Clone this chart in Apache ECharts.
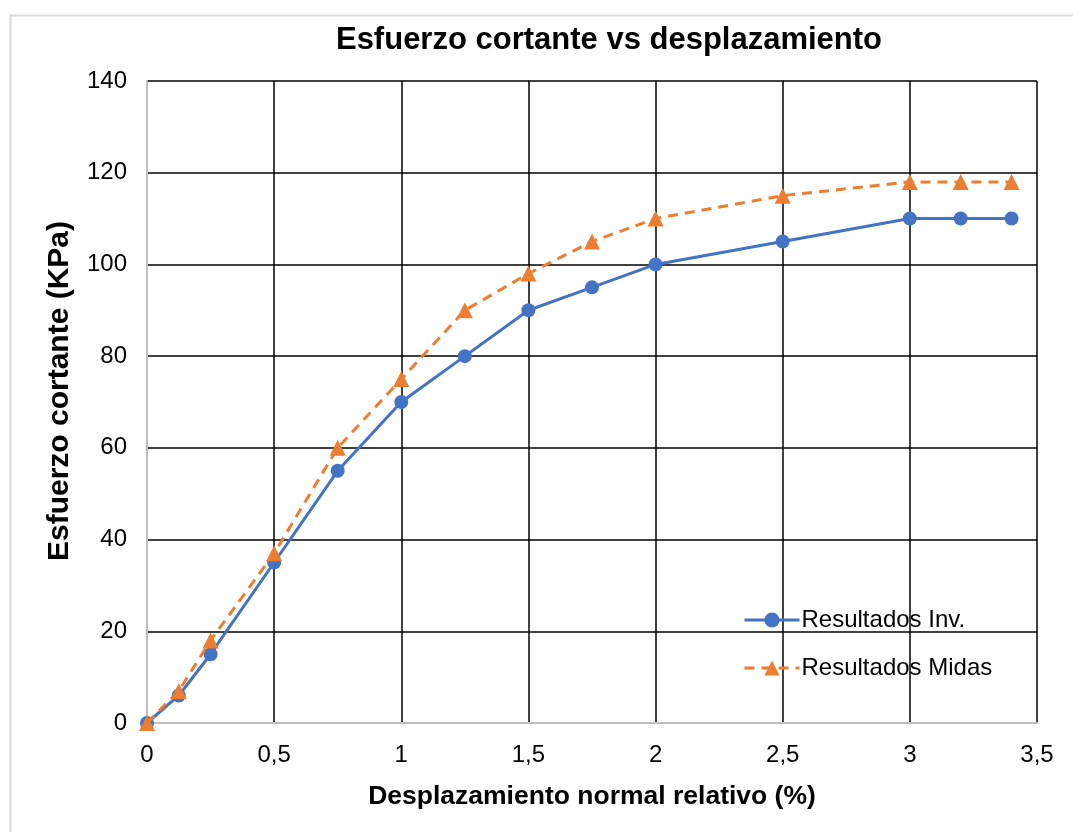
<!DOCTYPE html>
<html><head><meta charset="utf-8">
<script src="https://cdn.jsdelivr.net/npm/echarts@6/dist/echarts.min.js"></script>
<style>html,body{margin:0;padding:0;background:#fff;}#c{width:1073px;height:832px;}</style>
</head><body><div id="c"></div>
<script>
var xValues = [0, 0.125, 0.25, 0.5, 0.75, 1, 1.25, 1.5, 1.75, 2, 2.5, 3, 3.2, 3.4];
var inv = [0, 6, 15, 35, 55, 70, 80, 90, 95, 100, 105, 110, 110, 110];
var midas = [0, 7, 18, 37, 60, 75, 90, 98, 105, 110, 115, 118, 118, 118];
var seriesNames = ['Resultados Inv.', 'Resultados Midas'];
var titleText = 'Esfuerzo cortante vs desplazamiento';
var xName = 'Desplazamiento normal relativo (%)';
var yName = 'Esfuerzo cortante (KPa)';

function pairs(xs, ys){ return xs.map(function(x,i){ return [x, ys[i]]; }); }
var font = 'Liberation Sans, Arial, sans-serif';
var chart = echarts.init(document.getElementById('c'));
chart.setOption({
  backgroundColor: '#fff',
  animation: false,
  graphic: [{type:'rect', left: 8, top: 13, shape:{width:1200, height:1000}, style:{fill:'none', stroke:'#d9d9d9', lineWidth:2}, z:-1}],
  title: {text: titleText, left: 604, top: 20, textAlign: 'center',
    textStyle:{fontFamily: font, fontSize: 31, fontWeight: 'bold', color:'#000'}},
  grid: {left: 147, right: 36, top: 81, bottom: 109},
  legend: {orient: 'vertical', left: 738, top: 603, itemWidth: 55, itemHeight: 19, itemGap: 24,
    lineStyle: {width: 3},
    textStyle:{fontFamily: font, fontSize: 24, color:'#000', padding:[0,0,0,-3]},
    data: seriesNames},
  xAxis: {type:'value', min:0, max:3.5, interval:0.5,
    name: xName, nameLocation:'middle', nameGap: 60,
    nameTextStyle:{fontFamily: font, fontSize: 26.5, fontWeight:'bold', color:'#000'},
    axisLine:{show:true, onZero:false, lineStyle:{color:'#bfbfbf', width:2}},
    axisTick:{show:false},
    axisLabel:{fontFamily: font, fontSize: 24, color:'#000', margin: 20,
      formatter: function(v){ return String(v).replace('.', ','); }},
    splitLine:{show:true, lineStyle:{color:'#000', width:1.5}}},
  yAxis: {type:'value', min:0, max:140, interval:20,
    name: yName, nameLocation:'middle', nameGap: 72,
    nameTextStyle:{fontFamily: font, fontSize: 30, fontWeight:'bold', color:'#000', padding:[0,0,0,22]},
    axisLine:{show:true, onZero:false, lineStyle:{color:'#bfbfbf', width:2}},
    axisTick:{show:false},
    axisLabel:{fontFamily: font, fontSize: 24, color:'#000', margin: 20},
    splitLine:{show:true, lineStyle:{color:'#000', width:1.5}}},
  series: [
    {name: seriesNames[0], type:'line', data: pairs(xValues, inv), symbol:'circle', symbolSize: 14,
      lineStyle:{color:'#4472C4', width:3}, itemStyle:{color:'#4472C4'}, z: 3},
    {name: seriesNames[1], type:'line', data: pairs(xValues, midas), symbol:'triangle', symbolSize: 16,
      lineStyle:{color:'#ED7D31', width:3, type:[10,7]}, itemStyle:{color:'#ED7D31'}, z: 4}
  ]
});
</script></body></html>
